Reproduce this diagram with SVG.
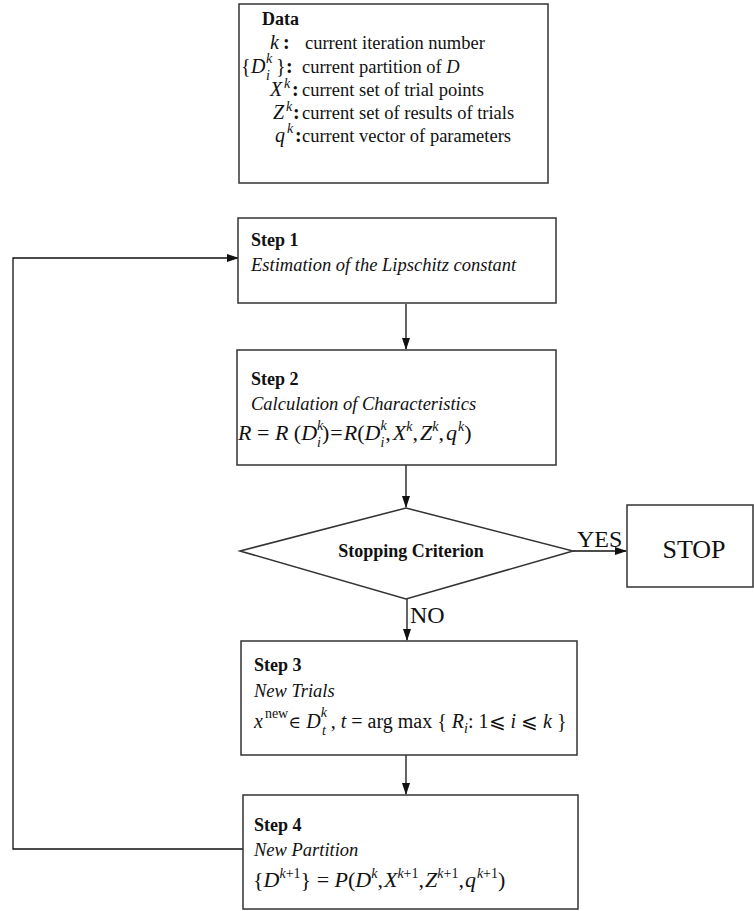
<svg xmlns="http://www.w3.org/2000/svg" width="754" height="911" viewBox="0 0 754 911">
<style>
.box{fill:#fff;stroke:#333;stroke-width:1.5}
.ln{fill:none;stroke:#111;stroke-width:1.3}
text{font-family:"Liberation Serif","Times New Roman",serif;fill:#111}
.t{font-size:18.5px}
.b{font-size:18px;font-weight:bold}
.i{font-style:italic}
.m{font-size:20px}
.m2{font-size:22px}
.s{font-size:14px}
.u{font-style:normal}
</style>
<defs>
<marker id="ah" markerWidth="12" markerHeight="8" refX="11" refY="4" orient="auto" markerUnits="userSpaceOnUse">
<path d="M0,0 L12,4 L0,8 Z" fill="#111"/>
</marker>
</defs>
<g id="connectors">
<line class="ln" x1="406" y1="304" x2="406" y2="349" marker-end="url(#ah)"/>
<line class="ln" x1="406" y1="465" x2="406" y2="507" marker-end="url(#ah)"/>
<line class="ln" x1="407" y1="599" x2="407" y2="640" marker-end="url(#ah)"/>
<line class="ln" x1="406" y1="755" x2="406" y2="794" marker-end="url(#ah)"/>
<line class="ln" x1="573" y1="551" x2="626" y2="551" marker-end="url(#ah)"/>
<polyline class="ln" points="243,849 13,849 13,258 238,258" marker-end="url(#ah)"/>
<text x="577" y="547" style="font-size:24px">YES</text>
<text x="410" y="623" style="font-size:24px">NO</text>
</g>
<g id="data">
<rect class="box" x="239" y="4" width="309" height="179"/>
<text class="b" x="262" y="25">Data</text>
<text class="m" y="49"><tspan class="i" x="270">k</tspan><tspan x="283" font-weight="bold">:</tspan></text>
<text class="t" x="305" y="49">current iteration number</text>
<text class="m" y="73"><tspan x="241">{</tspan><tspan class="i" x="251">D</tspan><tspan class="i s" x="266" dy="-10">k</tspan><tspan class="i s" x="266" dy="17">i</tspan><tspan x="276" dy="-7">}</tspan><tspan x="286" font-weight="bold">:</tspan></text>
<text class="t" x="302" y="73">current partition of <tspan class="i">D</tspan></text>
<text class="m" y="96"><tspan class="i" x="270">X</tspan><tspan class="i s" x="284" dy="-8">k</tspan><tspan x="292" dy="8" font-weight="bold">:</tspan></text>
<text class="t" x="302" y="96">current set of trial points</text>
<text class="m" y="119"><tspan class="i" x="273">Z</tspan><tspan class="i s" x="286" dy="-8">k</tspan><tspan x="293" dy="8" font-weight="bold">:</tspan></text>
<text class="t" x="302" y="119">current set of results of trials</text>
<text class="m" y="142"><tspan class="i" x="275">q</tspan><tspan class="i s" x="287" dy="-9">k</tspan><tspan x="295" dy="9" font-weight="bold">:</tspan></text>
<text class="t" x="302" y="142">current vector of parameters</text>
</g>
<g id="step1">
<rect class="box" x="238" y="218" width="318" height="85"/>
<text class="b" x="251" y="246">Step 1</text>
<text class="t i" x="251" y="271">Estimation of the Lipschitz constant</text>
</g>
<g id="step2">
<rect class="box" x="237" y="350" width="319" height="115"/>
<text class="b" x="251" y="385">Step 2</text>
<text class="t i" x="251" y="410">Calculation of Characteristics</text>
<text class="m2 i" x="238" y="440">R<tspan class="u"> = </tspan>R<tspan class="u"> (</tspan>D<tspan class="s" dy="-10">k</tspan><tspan class="s" dx="-6.2" dy="17">i</tspan><tspan class="u" dy="-7" dx="1">)</tspan><tspan class="u" dx="1">=</tspan><tspan dx="1">R</tspan><tspan class="u">(</tspan>D<tspan class="s" dy="-10">k</tspan><tspan class="s" dx="-6.2" dy="17">i</tspan><tspan class="u" dy="-7" dx="1">,</tspan><tspan dx="2">X</tspan><tspan class="s" dy="-9">k</tspan><tspan class="u" dy="9">,</tspan><tspan dx="2">Z</tspan><tspan class="s" dy="-9">k</tspan><tspan class="u" dy="9">,</tspan><tspan dx="2">q</tspan><tspan class="s" dy="-9" dx="1">k</tspan><tspan class="u" dy="9">)</tspan></text>
</g>
<g id="decision">
<polygon class="box" points="240,551 406,508 573,551 406,599"/>
<text class="b" x="411" y="557" text-anchor="middle">Stopping Criterion</text>
</g>
<g id="stop">
<rect class="box" x="627" y="505" width="126" height="82"/>
<text x="694" y="558" text-anchor="middle" style="font-size:26px">STOP</text>
</g>
<g id="step3">
<rect class="box" x="241" y="641" width="336" height="114"/>
<text class="b" x="254" y="671">Step 3</text>
<text class="t i" x="254" y="697">New Trials</text>
<text class="m i" x="254" y="728">x<tspan class="s u" dy="-10" dx="2">new</tspan><tspan class="u" dy="10" style="font-family:'DejaVu Serif',serif;font-size:17px">∈ </tspan>D<tspan class="s" dy="-11">k</tspan><tspan class="s" dx="-5" dy="18">t</tspan><tspan class="u" dy="-7"> , </tspan>t<tspan class="u"> = arg max { </tspan>R<tspan class="s" dy="5">i</tspan><tspan class="u" dy="-5">:  1⩽ </tspan>i<tspan class="u"> ⩽ </tspan>k<tspan class="u"> }</tspan></text>
</g>
<g id="step4">
<rect class="box" x="243" y="795" width="335" height="114"/>
<text class="b" x="254" y="831">Step 4</text>
<text class="t i" x="254" y="856">New Partition</text>
<text class="m2 i" x="253" y="887"><tspan class="u">{</tspan>D<tspan class="s u" dy="-9"><tspan class="i">k</tspan>+1</tspan><tspan class="u" dy="9">} = </tspan>P<tspan class="u">(</tspan>D<tspan class="s" dy="-9">k</tspan><tspan class="u" dy="9">,</tspan><tspan dx="1">X</tspan><tspan class="s u" dy="-9"><tspan class="i">k</tspan>+1</tspan><tspan class="u" dy="9">,</tspan><tspan dx="1">Z</tspan><tspan class="s u" dy="-9"><tspan class="i">k</tspan>+1</tspan><tspan class="u" dy="9">,</tspan><tspan dx="1">q</tspan><tspan class="s u" dy="-9" dx="1"><tspan class="i">k</tspan>+1</tspan><tspan class="u" dy="9">)</tspan></text>
</g>
</svg>
